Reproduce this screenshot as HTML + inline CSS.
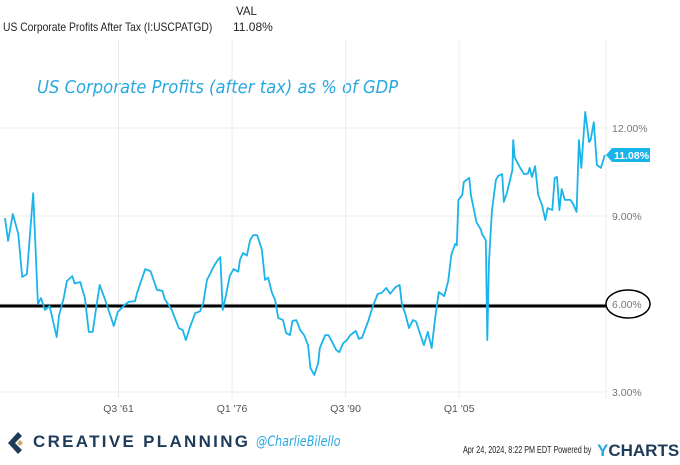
<!DOCTYPE html>
<html><head><meta charset="utf-8"><style>
body{margin:0;width:680px;height:465px;background:#fff;font-family:"Liberation Sans",sans-serif;overflow:hidden;position:relative}
.t{position:absolute;white-space:nowrap}
</style></head><body>
<div class="t" style="left:3px;top:20px;font-size:12px;color:#222;transform:scaleX(0.86);transform-origin:left">US Corporate Profits After Tax (I:USCPATGD)</div>
<div class="t" style="left:236px;top:6px;font-size:11.5px;color:#222">VAL</div>
<div class="t" style="left:233px;top:20px;font-size:12px;color:#222">11.08%</div>
<div class="t" style="left:37px;top:77px;font-size:18px;font-style:italic;color:#29a8e0;font-family:'DejaVu Sans',sans-serif;transform:scaleX(0.91);transform-origin:left">US Corporate Profits (after tax) as % of GDP</div>
<svg id="chart" width="680" height="420" style="position:absolute;left:0;top:0"></svg>
<svg width="24" height="24" style="position:absolute;left:6px;top:431px" viewBox="0 0 24 24">
<path d="M12 1 L2 12 L12 23 L16 19 L9 12 L16 5 Z" fill="#1f3b5a"/><path d="M14 9 L17 12 L14 15 L11 12 Z" fill="#c9a96e"/></svg>
<div class="t" style="left:33px;top:432px;font-size:17px;font-weight:bold;color:#1f3b5a;letter-spacing:2.3px">CREATIVE PLANNING</div>
<div class="t" style="left:256px;top:434px;font-size:14px;font-style:italic;color:#29a8e0;font-family:'DejaVu Sans',sans-serif;transform:scaleX(0.8);transform-origin:left">@CharlieBilello</div>
<div class="t" style="left:463px;top:445px;font-size:10px;color:#222;transform:scaleX(0.72);transform-origin:left">Apr 24, 2024, 8:22 PM EDT Powered by</div>
<div class="t" style="left:597px;top:441px;font-size:17px;font-weight:bold;color:#1f3b5a"><span style="color:#29a8e0">Y</span>CHARTS</div>
<script>
const years=[1947.0,1947.4,1948.0,1948.7,1949.2,1949.8,1950.6,1951.2,1951.6,1952.1,1952.7,1953.6,1953.9,1954.5,1954.9,1955.6,1955.9,1956.6,1957.2,1957.7,1958.2,1958.7,1959.1,1959.8,1960.9,1961.4,1962.3,1962.8,1963.6,1963.9,1964.9,1965.6,1966.4,1967.1,1967.4,1968.3,1969.2,1969.7,1970.1,1970.6,1971.3,1971.9,1972.3,1972.8,1973.7,1974.1,1974.5,1974.8,1975.2,1975.7,1976.2,1976.8,1977.0,1977.4,1977.9,1978.3,1978.7,1979.2,1979.8,1980.2,1980.6,1981.1,1981.5,1981.9,1982.5,1982.9,1983.4,1983.7,1984.2,1984.7,1985.2,1985.7,1986.0,1986.5,1987.0,1987.2,1987.9,1988.3,1988.6,1989.3,1989.7,1990.2,1990.6,1991.1,1991.8,1992.2,1992.6,1993.4,1993.9,1994.6,1995.1,1995.7,1996.2,1996.9,1997.4,1997.7,1998.1,1998.6,1999.1,1999.5,2000.1,2000.5,2001.0,2001.5,2001.9,2002.4,2003.1,2003.6,2004.0,2004.5,2004.7,2004.9,2005.4,2005.6,2006.3,2006.5,2006.9,2007.2,2007.8,2007.9,2008.4,2008.6,2008.8,2009.2,2009.7,2010.0,2010.5,2010.7,2011.1,2011.8,2011.9,2012.1,2012.8,2013.3,2013.8,2014.0,2014.3,2014.7,2015.1,2015.6,2016.0,2016.3,2016.9,2017.2,2017.5,2017.8,2018.1,2018.5,2019.2,2019.5,2020.0,2020.3,2020.6,2021.1,2021.6,2021.8,2022.2,2022.6,2023.1,2023.6];
const values=[8.93,8.15,9.07,8.39,6.92,7.02,9.78,6.0,6.2,5.8,5.93,4.87,5.6,6.2,6.78,6.95,6.7,6.75,6.2,5.05,5.05,5.97,6.65,6.14,5.25,5.73,5.97,6.07,6.1,6.4,7.19,7.12,6.48,6.45,6.17,5.8,5.18,5.11,4.77,5.2,5.69,5.75,6.0,6.82,7.3,7.47,7.6,5.8,6.27,6.95,7.19,7.1,7.5,7.74,7.65,8.18,8.35,8.35,7.87,6.82,6.9,6.38,6.14,5.52,5.45,5.01,4.94,5.42,5.45,5.11,4.94,4.6,3.82,3.58,3.99,4.5,4.94,4.94,4.8,4.43,4.36,4.67,4.75,4.94,5.08,4.81,4.85,5.42,5.86,6.34,6.38,6.55,6.35,6.58,6.65,5.97,5.69,5.18,5.45,5.4,4.91,4.6,5.05,4.5,5.45,6.41,6.27,6.78,7.67,8.05,8.0,9.55,9.72,10.16,10.3,9.72,9.2,8.8,8.52,8.4,8.18,4.77,7.4,9.2,10.23,10.37,10.43,9.48,9.78,10.57,11.59,11.0,10.64,10.43,10.45,10.64,10.33,10.7,9.72,9.37,8.86,9.27,9.2,10.3,10.33,9.2,9.92,9.55,9.55,9.44,9.14,11.59,10.64,12.55,11.52,11.6,12.2,10.74,10.64,11.08];
const yTicks=[3,6,9,12];
const xTickYears=[1961.5,1976.0,1990.5,2005.0];
const xTickLabels=["Q3 '61","Q1 '76","Q3 '90","Q1 '05"];
const lastValue=11.08;
const refLevel=6;
const NS="http://www.w3.org/2000/svg";
const svg=document.getElementById('chart');
const X=y=>5+(y-1947)*7.83;
const Y=v=>304-(v-6)*29.33;
function el(t,a,p){const e=document.createElementNS(NS,t);for(const k in a)e.setAttribute(k,a[k]);(p||svg).appendChild(e);return e;}
yTicks.forEach(v=>{
 const g=el('line',{x1:0,x2:606,y1:Y(v),y2:Y(v),stroke:'#ececec','stroke-width':1});
 
 
 const t=el('text',{x:612,y:Y(v)+4,'font-size':10.5,fill:'#777','font-family':'Liberation Sans'});
 t.textContent=v.toFixed(2)+'%';
 
 
});
xTickYears.forEach((yr,i)=>{
 const g=el('line',{x1:X(yr),x2:X(yr),y1:40,y2:398,stroke:'#ececec','stroke-width':1});
 
 
 const t=el('text',{x:X(yr),y:412,'font-size':10.5,fill:'#555','text-anchor':'middle','font-family':'Liberation Sans'});
 t.textContent=xTickLabels[i];
 
 
});
const rb=el('line',{x1:606,x2:606,y1:40,y2:398,stroke:'#ececec','stroke-width':1});


const ref=el('line',{x1:0,x2:606,y1:Y(refLevel)+2,y2:Y(refLevel)+2,stroke:'#000','stroke-width':3});


const ell=el('ellipse',{cx:628,cy:Y(refLevel),rx:22,ry:14,fill:'none',stroke:'#000','stroke-width':1.5});


const pts=years.map((y,i)=>X(y).toFixed(1)+','+Y(values[i]).toFixed(1)).join(' ');
const line=el('polyline',{points:pts,fill:'none',stroke:'#1ab4ea','stroke-width':1.8,'stroke-linejoin':'round'});


const by=Y(lastValue);
const badge=el('path',{d:`M606 ${by} L612 ${by-7} L650 ${by-7} L650 ${by+7} L612 ${by+7} Z`,fill:'#1ab4ea'});


const bt=el('text',{x:614,y:by+4,'font-size':10.5,'font-weight':'bold',fill:'#fff','font-family':'Liberation Sans'});
bt.textContent=lastValue.toFixed(2)+'%';


</script>
</body></html>
